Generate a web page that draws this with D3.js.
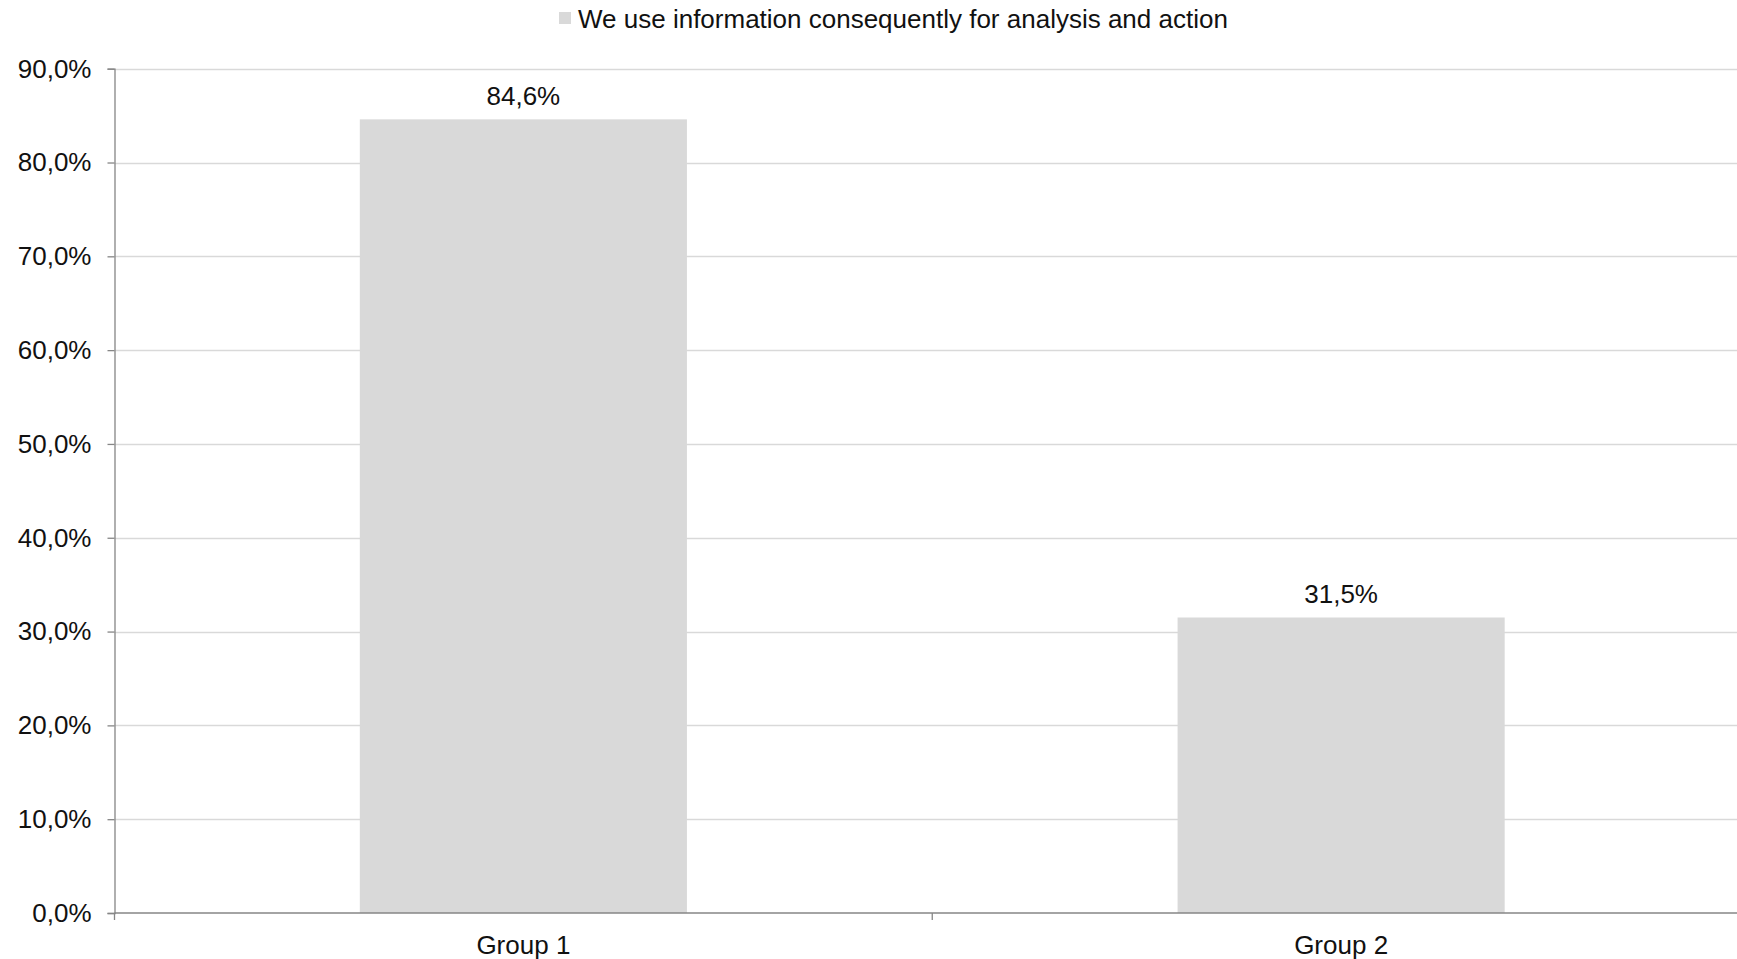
<!DOCTYPE html>
<html>
<head>
<meta charset="utf-8">
<script src="https://cdn.jsdelivr.net/npm/d3@7"></script>
<style>
  html, body { margin: 0; padding: 0; background: #fff; overflow: hidden; }
  svg { display: block; font-family: "Liberation Sans", Arial, sans-serif; }
</style>
</head>
<body>
<svg id="chart" width="1737" height="959"></svg>
<script>
// Chart data
const categories = ["Group 1", "Group 2"];
const seriesName = "We use information consequently for analysis and action";
const values = [84.6, 31.5];
const yTicks = [0, 10, 20, 30, 40, 50, 60, 70, 80, 90];

const W = 1737, H = 959;
const margin = { top: 68.7, left: 114.5, bottom: 46 };
const plotRight = 1750;           // plot area runs slightly past the frame
const plotBottom = H - margin.bottom;
const fontSize = 26;

const svg = d3.select("#chart");
const fmt = v => d3.format(".1f")(v).replace(".", ",") + "%";

const x = d3.scaleBand()
  .domain(categories)
  .range([margin.left, plotRight])
  .paddingInner(0.6)
  .paddingOuter(0.3);

const y = d3.scaleLinear()
  .domain([0, 90])
  .range([plotBottom, margin.top]);

// Horizontal gridlines
svg.append("g")
  .selectAll("line")
  .data(yTicks.filter(t => t > 0))
  .join("line")
  .attr("x1", margin.left).attr("x2", plotRight)
  .attr("y1", d => Math.round(y(d)) + 0.5).attr("y2", d => Math.round(y(d)) + 0.5)
  .attr("stroke", "#d9d9d9").attr("stroke-width", 1.3);

// Bars
svg.append("g")
  .selectAll("rect")
  .data(values)
  .join("rect")
  .attr("x", (d, i) => x(categories[i]))
  .attr("width", x.bandwidth())
  .attr("y", d => y(d))
  .attr("height", d => y(0) - y(d))
  .attr("fill", "#d9d9d9");

// Value labels
svg.append("g")
  .selectAll("text")
  .data(values)
  .join("text")
  .attr("x", (d, i) => x(categories[i]) + x.bandwidth() / 2)
  .attr("y", d => y(d) - 14)
  .attr("text-anchor", "middle")
  .attr("font-size", fontSize)
  .attr("fill", "#111")
  .text(d => fmt(d));

// Y axis
const yAxis = d3.axisLeft(y)
  .tickValues(yTicks)
  .tickFormat(fmt)
  .tickSize(7)
  .tickPadding(16);
const gy = svg.append("g")
  .attr("transform", `translate(${margin.left},0)`)
  .call(yAxis);
gy.select(".domain").attr("stroke", "#868686").attr("stroke-width", 1.3);
gy.selectAll(".tick line").attr("stroke", "#868686").attr("stroke-width", 1.3);
gy.selectAll(".tick text").attr("font-size", fontSize).attr("fill", "#111")
  .attr("font-family", "'Liberation Sans', Arial, sans-serif");

// X axis: baseline with ticks at category boundaries
const step = x.step();
const boundaries = [margin.left, margin.left + step, margin.left + 2 * step];
svg.append("line")
  .attr("x1", margin.left).attr("x2", plotRight)
  .attr("y1", y(0)).attr("y2", y(0))
  .attr("stroke", "#868686").attr("stroke-width", 1.3);
svg.append("g")
  .selectAll("line")
  .data(boundaries)
  .join("line")
  .attr("x1", d => d).attr("x2", d => d)
  .attr("y1", y(0)).attr("y2", y(0) + 7)
  .attr("stroke", "#868686").attr("stroke-width", 1.3);
svg.append("g")
  .selectAll("text")
  .data(categories)
  .join("text")
  .attr("x", d => x(d) + x.bandwidth() / 2)
  .attr("y", 954)
  .attr("text-anchor", "middle")
  .attr("font-size", fontSize)
  .attr("fill", "#111")
  .text(d => d);

// Legend
const legend = svg.append("g").attr("transform", "translate(559,0)");
legend.append("rect")
  .attr("x", 0).attr("y", 12).attr("width", 12).attr("height", 12)
  .attr("fill", "#d9d9d9");
legend.append("text")
  .attr("x", 19).attr("y", 28)
  .attr("font-size", fontSize)
  .attr("fill", "#111")
  .text(seriesName);
</script>
</body>
</html>
